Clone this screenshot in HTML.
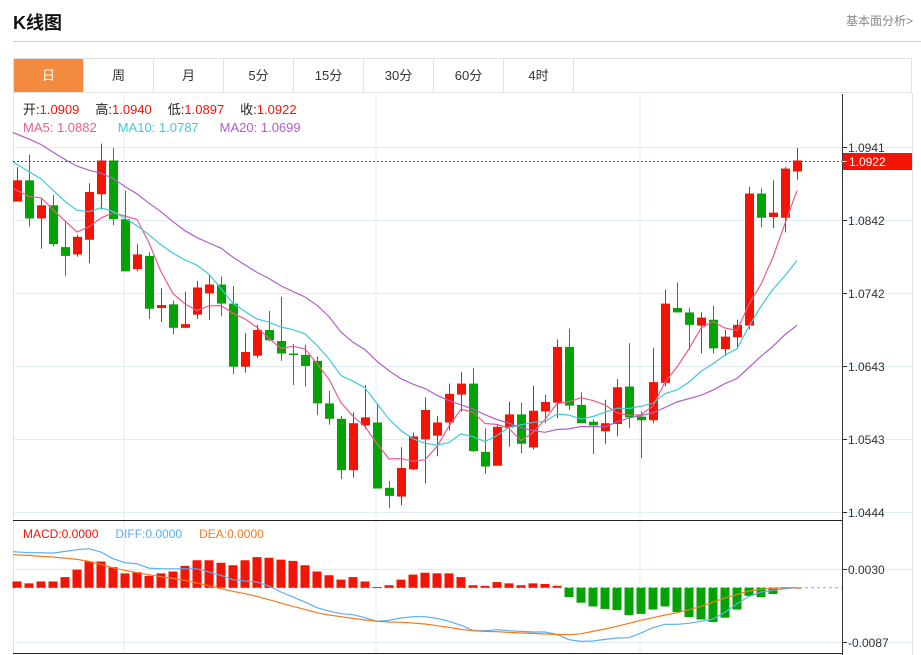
<!DOCTYPE html>
<html><head><meta charset="utf-8">
<style>
body{margin:0;background:#fff;font-family:"Liberation Sans","Noto Sans CJK SC",sans-serif;}
#wrap{position:relative;width:921px;height:655px;overflow:hidden;}
.title{position:absolute;left:13px;top:9px;font-size:18px;font-weight:bold;color:#111;}
.more{position:absolute;right:8px;top:12px;font-size:12px;color:#888;}
.hr{position:absolute;left:13px;top:41px;width:908px;height:1px;background:#ccc;}
.tabs{position:absolute;left:13px;top:58px;width:899px;height:35px;border:1px solid #e2e2e2;box-sizing:border-box;display:flex;}
.tab{width:69px;height:33px;border-right:1px solid #e2e2e2;text-align:center;line-height:33px;font-size:13px;color:#333;}
.tab.on{background:#f38b3e;color:#fff;}
svg{position:absolute;left:0;top:0;}
</style></head><body>
<div id="wrap">
<div class="title">K线图</div>
<div class="more">基本面分析&gt;</div>
<div class="hr"></div>
<div class="tabs">
<div class="tab on">日</div>
<div class="tab">周</div>
<div class="tab">月</div>
<div class="tab">5分</div>
<div class="tab">15分</div>
<div class="tab">30分</div>
<div class="tab">60分</div>
<div class="tab">4时</div>
</div>
<svg id="chart" width="921" height="655"></svg>
</div>
<script>
const opens=[1.0867,1.0896,1.0844,1.0862,1.0805,1.0795,1.0815,1.0877,1.0923,1.0843,1.0775,1.0793,1.0722,1.0727,1.0695,1.0713,1.0742,1.0754,1.0728,1.0642,1.0657,1.0692,1.0677,1.0660,1.0658,1.0650,1.0592,1.0571,1.0501,1.0562,1.0566,1.0477,1.0465,1.0502,1.0543,1.0548,1.0566,1.0604,1.0619,1.0526,1.0507,1.0559,1.0577,1.0532,1.0581,1.0593,1.0669,1.0590,1.0567,1.0554,1.0564,1.0615,1.0574,1.0569,1.0620,1.0722,1.0716,1.0698,1.0706,1.0666,1.0682,1.0698,1.0878,1.0846,1.0845,1.0908];
const highs=[1.0914,1.0931,1.0872,1.0876,1.0840,1.0822,1.0892,1.0946,1.0940,1.0882,1.0809,1.0798,1.0749,1.0732,1.0744,1.0759,1.0767,1.0765,1.0752,1.0688,1.0699,1.0718,1.0737,1.0673,1.0672,1.0656,1.0609,1.0575,1.0580,1.0617,1.0592,1.0486,1.0532,1.0552,1.0600,1.0575,1.0619,1.0635,1.0640,1.0558,1.0563,1.0594,1.0593,1.0616,1.0604,1.0679,1.0694,1.0607,1.0570,1.0597,1.0625,1.0674,1.0581,1.0668,1.0747,1.0757,1.0722,1.0716,1.0725,1.0692,1.0706,1.0887,1.0885,1.0896,1.0914,1.0940];
const lows=[1.0867,1.0833,1.0803,1.0806,1.0766,1.0792,1.0783,1.0856,1.0835,1.0772,1.0772,1.0707,1.0703,1.0686,1.0695,1.0707,1.0706,1.0711,1.0632,1.0634,1.0654,1.0677,1.0650,1.0617,1.0615,1.0576,1.0563,1.0489,1.0491,1.0557,1.0476,1.0449,1.0453,1.0501,1.0483,1.0520,1.0555,1.0581,1.0526,1.0496,1.0507,1.0533,1.0524,1.0529,1.0565,1.0572,1.0583,1.0565,1.0523,1.0537,1.0547,1.0558,1.0517,1.0565,1.0615,1.0716,1.0665,1.0660,1.0660,1.0657,1.0666,1.0693,1.0832,1.0831,1.0825,1.0897];
const closes=[1.0896,1.0844,1.0862,1.0809,1.0793,1.0819,1.0880,1.0923,1.0843,1.0772,1.0795,1.0721,1.0726,1.0695,1.0700,1.0750,1.0754,1.0728,1.0642,1.0662,1.0692,1.0678,1.0660,1.0658,1.0643,1.0592,1.0571,1.0501,1.0565,1.0573,1.0476,1.0466,1.0504,1.0547,1.0583,1.0566,1.0605,1.0619,1.0527,1.0506,1.0560,1.0577,1.0537,1.0582,1.0594,1.0669,1.0589,1.0565,1.0562,1.0565,1.0614,1.0573,1.0569,1.0621,1.0728,1.0716,1.0699,1.0709,1.0667,1.0683,1.0699,1.0878,1.0845,1.0852,1.0912,1.0923];
const priorCloses=[1.1020,1.1010,1.1015,1.0995,1.1000,1.0990,1.1005,1.0985,1.0995,1.0995,1.0975,1.0960,1.0965,1.0945,1.0940,1.0900,1.0870,1.0890,1.0869];
const priceTicks=[1.0941,1.0842,1.0742,1.0643,1.0543,1.0444];
const lastPrice=1.0922;
const macdHist=[0.0010,0.0007,0.0010,0.0010,0.0017,0.0029,0.0042,0.0042,0.0033,0.0023,0.0025,0.0019,0.0023,0.0026,0.0035,0.0044,0.0044,0.0040,0.0036,0.0044,0.0049,0.0048,0.0045,0.0043,0.0036,0.0026,0.0020,0.0013,0.0017,0.0010,0.0001,0.0004,0.0013,0.0021,0.0024,0.0023,0.0023,0.0017,0.0004,0.0003,0.0009,0.0007,0.0004,0.0007,0.0006,0.0003,-0.0015,-0.0024,-0.0030,-0.0034,-0.0036,-0.0044,-0.0042,-0.0035,-0.0030,-0.0039,-0.0047,-0.0051,-0.0055,-0.0048,-0.0035,-0.0013,-0.0015,-0.0010,-0.0002,0];
const diffVals=[0.00577,0.00561,0.00561,0.00555,0.00582,0.00609,0.00625,0.00571,0.00465,0.00401,0.00384,0.00315,0.00304,0.00304,0.00304,0.00304,0.00251,0.00198,0.00128,0.00107,0.00091,0.00027,-0.00069,-0.00150,-0.00230,-0.00320,-0.00374,-0.00417,-0.00433,-0.00481,-0.00539,-0.00523,-0.00486,-0.00465,-0.00465,-0.00491,-0.00539,-0.00603,-0.00684,-0.00689,-0.00673,-0.00689,-0.00700,-0.00710,-0.00710,-0.00748,-0.00833,-0.00860,-0.00854,-0.00828,-0.00806,-0.00801,-0.00726,-0.00641,-0.00587,-0.00587,-0.00571,-0.00539,-0.00502,-0.00390,-0.00256,-0.00139,-0.00069,-0.00043,-0.00016,0];
const deaVals=[0.00529,0.00518,0.00502,0.00491,0.00475,0.00454,0.00422,0.00374,0.00320,0.00278,0.00240,0.00208,0.00176,0.00150,0.00117,0.00075,0.00032,-0.00016,-0.00059,-0.00096,-0.00139,-0.00192,-0.00246,-0.00299,-0.00347,-0.00401,-0.00438,-0.00465,-0.00491,-0.00518,-0.00539,-0.00550,-0.00555,-0.00566,-0.00582,-0.00609,-0.00635,-0.00668,-0.00689,-0.00700,-0.00705,-0.00716,-0.00726,-0.00732,-0.00742,-0.00748,-0.00753,-0.00737,-0.00700,-0.00662,-0.00619,-0.00571,-0.00523,-0.00481,-0.00438,-0.00401,-0.00352,-0.00299,-0.00230,-0.00166,-0.00107,-0.00053,-0.00027,-0.00011,0,0];
const macdTicks=[0.0030,-0.0087];

const svg=document.getElementById('chart');
const NS='http://www.w3.org/2000/svg';
function mk(tag,attrs,parent){const e=document.createElementNS(NS,tag);for(const k in attrs)e.setAttribute(k,attrs[k]);(parent||svg).appendChild(e);return e;}
const L=13,AX=842,R=912;
const x=i=>17+i*((797-17)/(closes.length-1));
const y=p=>147.3+(1.0941-p)*(364.7/0.0497);
const my=v=>569+(0.0030-v)*(73/0.0117);
const RED='#f21405',GREEN='#04a304';

[124,376,640].forEach(gx=>{const g=mk('line',{x1:gx,y1:94,x2:gx,y2:653,stroke:'#e3ecf2','stroke-width':1});
});
priceTicks.forEach(t=>{const yy=Math.round(y(t))+0.5;
const g=mk('line',{x1:L,y1:yy,x2:R,y2:yy,stroke:'#e3ecf2'});

mk('line',{x1:AX,y1:yy,x2:AX+5,y2:yy,stroke:'#333'});
const tx=mk('text',{x:848,y:yy+4.5,'font-size':12,fill:'#333','font-family':'Liberation Sans, sans-serif'});tx.textContent=t.toFixed(4);
});
macdTicks.forEach(t=>{const yy=Math.round(my(t))+0.5;
const g=mk('line',{x1:L,y1:yy,x2:R,y2:yy,stroke:'#e3ecf2'});

mk('line',{x1:AX,y1:yy,x2:AX+5,y2:yy,stroke:'#333'});
const tx=mk('text',{x:848,y:yy+4.5,'font-size':12,fill:'#333','font-family':'Liberation Sans, sans-serif'});tx.textContent=t.toFixed(4);
});

mk('line',{x1:L+0.5,y1:93,x2:L+0.5,y2:655,stroke:'#dde3e8'});
mk('line',{x1:R+0.5,y1:93,x2:R+0.5,y2:655,stroke:'#dde3e8'});
const ax=mk('line',{x1:AX+0.5,y1:94,x2:AX+0.5,y2:655,stroke:'#333'});

mk('line',{x1:L,y1:520.5,x2:AX,y2:520.5,stroke:'#222'});
mk('line',{x1:L,y1:653.5,x2:AX,y2:653.5,stroke:'#222'});

for(let i=0;i<closes.length;i++){
 const up=closes[i]>=opens[i];const c=up?RED:GREEN;const cx=Math.round(x(i))+0.5;
 const g=mk('g',{});
 
 mk('line',{x1:cx,y1:y(highs[i]),x2:cx,y2:y(lows[i]),stroke:c,'stroke-width':1},g);
 const top=y(Math.max(opens[i],closes[i])),bot=y(Math.min(opens[i],closes[i]));
 mk('rect',{x:cx-4.5,y:top,width:9,height:Math.max(1.5,bot-top),fill:c},g);
}
const all=priorCloses.concat(closes);
function ma(n){return closes.map((_,i)=>{const j=i+priorCloses.length;let s=0;for(let k=j-n+1;k<=j;k++)s+=all[k];return s/n;});}
[[5,'#ee5b8b','ma5-line'],[10,'#3fc8dc','ma10-line'],[20,'#b15dc8','ma20-line']].forEach(([n,col,nm])=>{
 const v=ma(n);const pts=v.map((p,i)=>(i==0?L:x(i)).toFixed(1)+','+y(p).toFixed(1)).join(' ');
 const pl=mk('polyline',{points:pts,fill:'none',stroke:col,'stroke-width':1.2});
 });

const ly=Math.round(y(lastPrice))+0.5;
const lp=mk('line',{x1:L,y1:ly,x2:AX,y2:ly,stroke:RED,'stroke-dasharray':'2,2'});

const lr=mk('rect',{x:843,y:ly-8.5,width:69,height:17,fill:RED});

mk('line',{x1:AX,y1:ly,x2:AX+5,y2:ly,stroke:'#fff'});
const lt=mk('text',{x:849,y:ly+4.5,'font-size':12,fill:'#fff','font-family':'Liberation Sans, sans-serif'});lt.textContent=lastPrice.toFixed(4);


const zy=my(0);
const zl=mk('line',{x1:L,y1:zy,x2:AX,y2:zy,stroke:'#9ac','stroke-dasharray':'3,3'});

macdHist.forEach((v,i)=>{const cx=x(i);const yy=my(v);
 const r=mk('rect',{x:cx-4.5,y:Math.min(yy,zy),width:9,height:Math.max(0.8,Math.abs(yy-zy)),fill:v>=0?RED:GREEN});
 });
[[diffVals,'#5aaef0','diff-line'],[deaVals,'#f57a1e','dea-line']].forEach(([arr,col,nm])=>{
 const pts=arr.map((v,i)=>(i==0?L:x(i)).toFixed(1)+','+my(v).toFixed(1)).join(' ');
 const pl=mk('polyline',{points:pts,fill:'none',stroke:col,'stroke-width':1.2});
 });

function leg(parts,yy,fs,nm){const t=mk('text',{x:23,y:yy,'font-size':fs,'font-family':'Liberation Sans, Noto Sans CJK SC, sans-serif'});
 
 parts.forEach(([s,c,dx])=>{const sp=mk('tspan',{fill:c},t);if(dx)sp.setAttribute('dx',dx);sp.textContent=s;});}
leg([['开:','#222'],['1.0909',RED],['高:','#222',16],['1.0940',RED],['低:','#222',16],['1.0897',RED],['收:','#222',16],['1.0922',RED]],114,13,'ohlc-legend');
leg([['MA5: 1.0882','#ee5b8b'],['MA10: 1.0787','#3fc8dc',21],['MA20: 1.0699','#b15dc8',21]],132,13,'ma-legend');
leg([['MACD:0.0000',RED],['DIFF:0.0000','#5aaef0',17],['DEA:0.0000','#f57a1e',17]],538,12,'macd-legend');
</script>
</body></html>
